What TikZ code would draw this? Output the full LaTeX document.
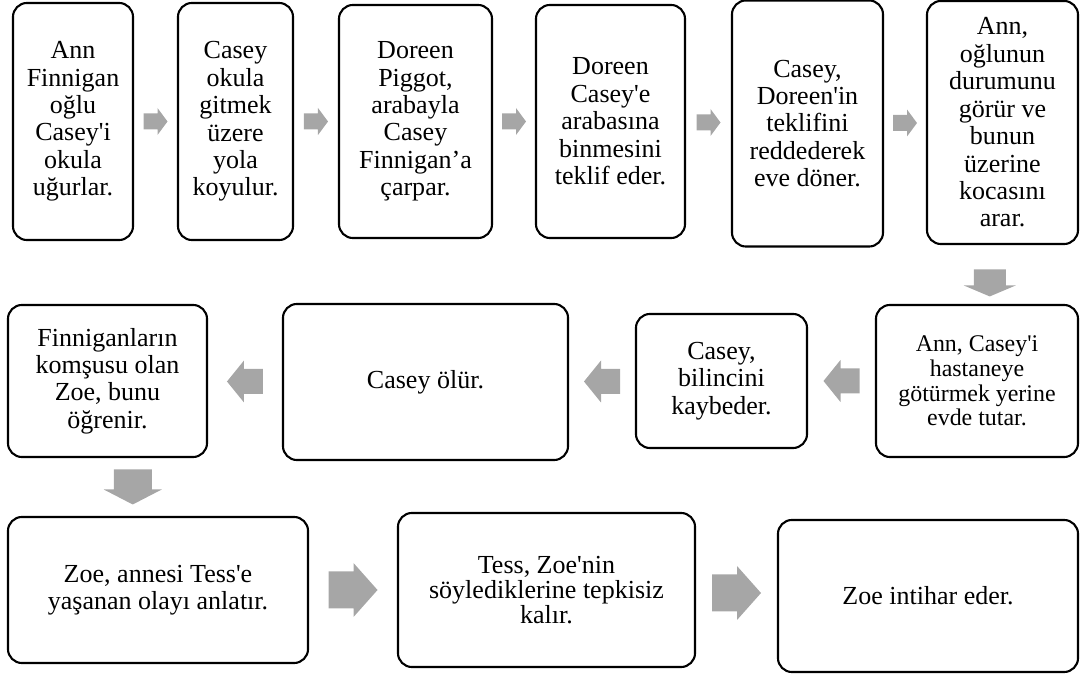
\documentclass[tikz,border=0pt]{standalone}
\usepackage{fontspec}
\setmainfont{Liberation Serif}[Ligatures=TeXOff]
\usepackage{tikz}
\usetikzlibrary{calc}
\definecolor{arrowgray}{HTML}{A6A6A6}

\begin{document}
\begin{tikzpicture}[
  x=0.025cm, y=-0.025cm,
  every node/.style={font=\fontsize{18.5}{19.5}\selectfont},
  box/.style={draw, line width=1.5pt, rounded corners=0.35cm, align=center, inner sep=2pt},
  smallbox/.style={box, font=\fontsize{17}{17.5}\selectfont},
  tightbox/.style={box, font=\fontsize{18.5}{17.5}\selectfont},
  pics/blkarrow/.style n args={4}{code={
    \fill[arrowgray] (-#1/2,-#3/2) -- (#1/2-#4,-#3/2) -- (#1/2-#4,-#2/2)
      -- (#1/2,0) -- (#1/2-#4,#2/2) -- (#1/2-#4,#3/2) -- (-#1/2,#3/2) -- cycle;}}]
  \useasboundingbox (0,0) rectangle (1081,674);
  % first row
  \node[box, minimum width=3cm,   minimum height=5.925cm] (send)   at (73,121.5)    {Ann\\Finnigan\\oğlu\\Casey'i\\okula\\uğurlar.};
  \node[box, minimum width=2.875cm, minimum height=5.925cm] (walk) at (235.5,121.5)  {Casey\\okula\\gitmek\\üzere\\yola\\koyulur.};
  \node[box, minimum width=3.825cm, minimum height=5.825cm] (hit)  at (415.5,121.5)  {Doreen\\Piggot,\\arabayla\\Casey\\Finnigan’a\\çarpar.};
  \node[box, minimum width=3.725cm, minimum height=5.825cm] (offer) at (610.5,121.5) {Doreen\\Casey'e\\arabasına\\binmesini\\teklif eder.};
  \node[box, minimum width=3.775cm, minimum height=6.15cm] (refuse) at (807.5,123.5) {Casey,\\Doreen'in\\teklifini\\reddederek\\eve döner.};
  \node[box, minimum width=3.775cm, minimum height=6.075cm] (call)  at (1002.5,122.5) {Ann,\\oğlunun\\durumunu\\görür ve\\bunun\\üzerine\\kocasını\\arar.};
  % second row, right to left
  \node[smallbox, minimum width=5.05cm, minimum height=3.8cm] (keep) at (977,381)  {Ann, Casey'i\\hastaneye\\götürmek yerine\\evde tutar.};
  \node[box, minimum width=4.275cm, minimum height=3.35cm] (faint)  at (721.5,381)   {Casey,\\bilincini\\kaybeder.};
  \node[box, minimum width=7.125cm, minimum height=3.9cm]  (die)    at (425.5,382)   {Casey ölür.};
  \node[box, minimum width=4.975cm, minimum height=3.8cm]  (learn)  at (107.5,381)   {Finniganların\\komşusu olan\\Zoe, bunu\\öğrenir.};
  % third row
  \node[box, minimum width=7.5cm,   minimum height=3.65cm] (tell)   at (158,590)     {Zoe, annesi Tess'e\\yaşanan olayı anlatır.};
  \node[tightbox, minimum width=7.425cm, minimum height=3.85cm] (ignore) at (546.5,590) {Tess, Zoe'nin\\söylediklerine tepkisiz\\kalır.};
  \node[box, minimum width=7.5cm,   minimum height=3.8cm]  (suicide) at (928,596)    {Zoe intihar eder.};
  % block arrows
  \pic at ($(send.east)!0.5!(walk.west)$)    {blkarrow={24}{27}{16}{10}};
  \pic at ($(walk.east)!0.5!(hit.west)$)     {blkarrow={24}{27}{16}{10}};
  \pic at ($(hit.east)!0.5!(offer.west)$)    {blkarrow={24}{27}{16}{10}};
  \pic at ($(offer.east)!0.5!(refuse.west)$) {blkarrow={24}{27}{16}{10}};
  \pic at ($(refuse.east)!0.5!(call.west)$)  {blkarrow={24}{27}{16}{10}};
  \pic[rotate=-90, xshift=6] at ($(call.south)!0.5!(keep.north)$) {blkarrow={27}{52}{32}{11}};
  \pic[rotate=180] at ($(keep.west)!0.5!(faint.east)$)  {blkarrow={36}{42}{25}{17}};
  \pic[rotate=180] at ($(faint.west)!0.5!(die.east)$)   {blkarrow={36}{42}{25}{17}};
  \pic[rotate=180] at ($(die.west)!0.5!(learn.east)$)   {blkarrow={36}{42}{25}{17}};
  \pic[rotate=-90] at ($(learn.south)!0.5!(tell.north)$) {blkarrow={35}{58}{38}{15}};
  \pic at ($(tell.east)!0.5!(ignore.west)$)     {blkarrow={49}{54}{37}{24}};
  \pic at ($(ignore.east)!0.5!(suicide.west)$)  {blkarrow={49}{54}{37}{24}};
\end{tikzpicture}
\end{document}
